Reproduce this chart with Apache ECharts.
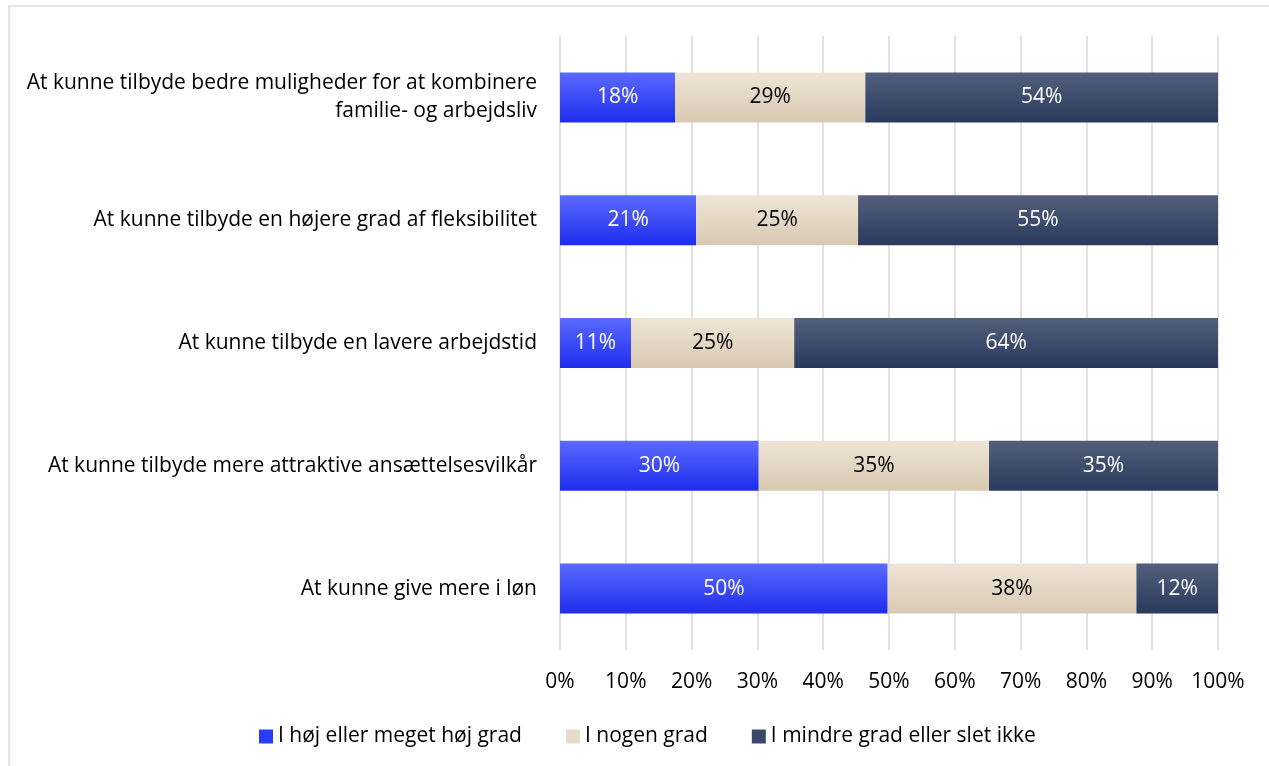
<!DOCTYPE html>
<html>
<head>
<meta charset="utf-8">
<script src="https://cdn.jsdelivr.net/npm/echarts@6/dist/echarts.min.js"></script>
<style>
  html, body { margin: 0; padding: 0; background: #fff; }
  #chart { width: 1269px; height: 766px; }
</style>
</head>
<body>
<div id="chart"></div>
<script>
// kategorier, oppefra og ned
var categories = [
  'At kunne tilbyde bedre muligheder for at kombinere\nfamilie- og arbejdsliv',
  'At kunne tilbyde en højere grad af fleksibilitet',
  'At kunne tilbyde en lavere arbejdstid',
  'At kunne tilbyde mere attraktive ansættelsesvilkår',
  'At kunne give mere i løn'
]
var seriesNames = ['I høj eller meget høj grad', 'I nogen grad', 'I mindre grad eller slet ikke']
var hoejGrad = [17.5, 20.7, 10.8, 30.2, 49.8]
var nogenGrad = [28.9, 24.6, 24.8, 35.0, 37.8]
var mindreGrad = [53.6, 54.7, 64.4, 34.8, 12.4]
var xTicks = [0, 10, 20, 30, 40, 50, 60, 70, 80, 90, 100]

var font = '"Open Sans", sans-serif'

function grad (top, bottom) {
  return new echarts.graphic.LinearGradient(0, 0, 0, 1, [
    { offset: 0, color: top },
    { offset: 1, color: bottom },
  ])
}

var colors = [
  grad('#5b6aff', '#1e2ded'),
  grad('#efe5d6', '#d8c9b2'),
  grad('#535f7b', '#293a5d'),
]
var legendColors = ['#2b3cf5', '#e6dccb', '#3a4868']
var labelColors = ['#fff', '#000', '#fff']
var data = [hoejGrad, nogenGrad, mindreGrad]

var myChart = echarts.init(document.getElementById('chart'))

var option = {
  animation: false,
  textStyle: { fontFamily: font },
  graphic: [
    {
      type: 'rect',
      shape: { x: 9, y: 6, width: 1300, height: 800 },
      style: { fill: 'none', stroke: '#e3e3e3', lineWidth: 2 },
      silent: true,
    },
  ],
  grid: {
    left: 560,
    right: 51,
    top: 36,
    bottom: 116,
  },
  legend: {
    left: 254,
    top: 721,
    itemWidth: 14,
    itemHeight: 14,
    itemGap: 44,
    icon: 'rect',
    textStyle: { fontSize: 21, color: '#000', fontFamily: font },
    data: seriesNames.map(function (n, i) {
      return { name: n, itemStyle: { color: legendColors[i] } }
    }),
  },
  xAxis: {
    type: 'value',
    min: 0,
    max: 100,
    interval: 10,
    axisLine: { show: false },
    axisTick: { show: false },
    splitLine: { show: true, lineStyle: { color: '#e2e2e2', width: 2 } },
    axisLabel: {
      margin: 22,
      fontSize: 21,
      color: '#000',
      fontFamily: font,
      formatter: function (v) {
        return xTicks.indexOf(v) >= 0 ? v + '%' : ''
      },
    },
  },
  yAxis: {
    type: 'category',
    inverse: true,
    data: categories,
    axisLine: { show: false },
    axisTick: { show: false },
    axisLabel: {
      margin: 23,
      fontSize: 21,
      lineHeight: 28,
      padding: [4, 0, 0, 0],
      color: '#000',
      fontFamily: font,
      align: 'right',
    },
  },
  series: seriesNames.map(function (name, i) {
    return {
      name: name,
      type: 'bar',
      stack: 'total',
      barWidth: 50,
      itemStyle: { color: colors[i] },
      label: {
        show: true,
        position: 'inside',
        fontSize: 21,
        color: labelColors[i],
        fontFamily: font,
        formatter: function (p) { return Math.round(p.value) + '%' },
      },
      data: data[i],
    }
  }),
}

myChart.setOption(option)
window.onresize = myChart.resize
</script>
</body>
</html>
